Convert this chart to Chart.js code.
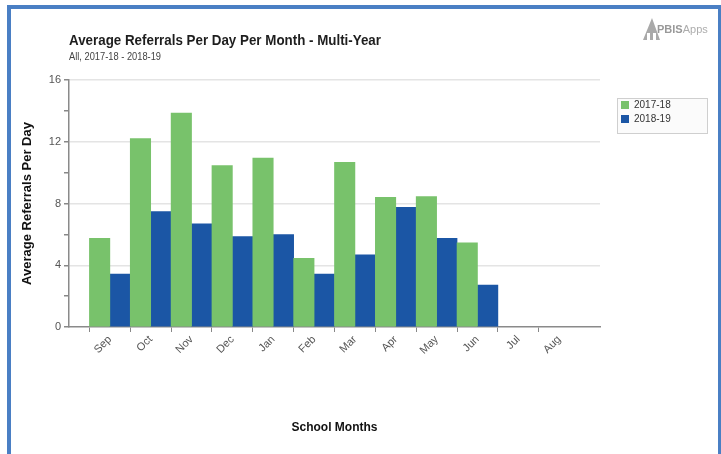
<!DOCTYPE html>
<html>
<head>
<meta charset="utf-8">
<script src="https://cdn.jsdelivr.net/npm/chart.js@4"></script>
<style>
  html, body { margin: 0; padding: 0; background: #fff; }
  #wrap { width: 721px; height: 454px; position: relative; }
</style>
</head>
<body>
<div id="wrap"><canvas id="chart" width="721" height="454"></canvas></div>
<script>
// Months, padded with an empty slot on each side like the original axis
var months = ['', 'Sep', 'Oct', 'Nov', 'Dec', 'Jan', 'Feb', 'Mar', 'Apr', 'May', 'Jun', 'Jul', 'Aug', ''];
var seriesNames = ['2017-18', '2018-19'];
// Jul / Aug have no school days, so nothing is drawn there
var year1718 = [null, 5.75, 12.2, 13.85, 10.45, 10.95, 4.45, 10.67, 8.4, 8.45, 5.45, null, null, null];
var year1819 = [null, 3.43, 7.47, 6.68, 5.85, 5.98, 3.43, 4.67, 7.76, 5.75, 2.72, null, null, null];
var seriesColors = ['#78c26b', '#1b56a5'];

var titleText = 'Average Referrals Per Day Per Month - Multi-Year';
var subtitleText = 'All, 2017-18 - 2018-19';

// Frame, headings, logo and boxed legend
var decorPlugin = {
    id: 'decor',
    beforeDraw: function(chart) {
        var ctx = chart.ctx;
        ctx.save();
        ctx.fillStyle = '#fff';
        ctx.fillRect(0, 0, chart.width, chart.height);
        ctx.restore();
    },
    afterDraw: function(chart) {
        var ctx = chart.ctx;
        ctx.save();

        // blue frame
        ctx.fillStyle = '#4a7fc4';
        ctx.fillRect(7, 5, 714, 4);
        ctx.fillRect(7, 5, 4, 449);
        ctx.fillRect(718, 5, 3, 449);

        // title + subtitle
        ctx.fillStyle = '#1e1e1e';
        ctx.textBaseline = 'alphabetic';
        ctx.textAlign = 'left';
        ctx.font = 'bold 15px "Liberation Sans", Arial, sans-serif';
        ctx.fillText(titleText, 69, 45, 312);
        ctx.fillStyle = '#444';
        ctx.font = '10px "Liberation Sans", Arial, sans-serif';
        ctx.fillText(subtitleText, 69, 60, 92);

        // PBISApps logo
        ctx.fillStyle = '#a9a9a9';
        ctx.beginPath();
        ctx.moveTo(652, 18);
        ctx.lineTo(643, 40);
        ctx.lineTo(647, 40);
        ctx.lineTo(647, 33);
        ctx.lineTo(650, 33);
        ctx.lineTo(650, 40);
        ctx.lineTo(653, 40);
        ctx.lineTo(653, 33);
        ctx.lineTo(656, 33);
        ctx.lineTo(656, 40);
        ctx.lineTo(660, 40);
        ctx.closePath();
        ctx.fill();
        ctx.fillStyle = '#999';
        ctx.font = 'bold 11px "Liberation Sans", Arial, sans-serif';
        ctx.fillText('PBIS', 657, 33);
        var w = ctx.measureText('PBIS').width;
        ctx.fillStyle = '#adadad';
        ctx.font = '11px "Liberation Sans", Arial, sans-serif';
        ctx.fillText('Apps', 657 + w, 33);

        // legend box
        ctx.fillStyle = '#fbfbfb';
        ctx.fillRect(617, 98, 91, 36);
        ctx.strokeStyle = '#cfcfcf';
        ctx.lineWidth = 1;
        ctx.strokeRect(617.5, 98.5, 90, 35);
        ctx.font = '10px "Liberation Sans", Arial, sans-serif';
        ctx.textBaseline = 'middle';
        for (var i = 0; i < seriesNames.length; i++) {
            var y = 105 + i * 14;
            ctx.fillStyle = seriesColors[i];
            ctx.fillRect(621, y - 4, 8, 8);
            ctx.fillStyle = '#333';
            ctx.fillText(seriesNames[i], 634, y);
        }
        ctx.restore();
    }
};

var axisFont = { family: '"Liberation Sans", Arial, sans-serif', size: 11 };

new Chart(document.getElementById('chart'), {
    type: 'bar',
    data: {
        labels: months,
        datasets: [{
            label: seriesNames[0],
            data: year1718,
            backgroundColor: seriesColors[0]
        }, {
            label: seriesNames[1],
            data: year1819,
            backgroundColor: seriesColors[1]
        }]
    },
    options: {
        responsive: false,
        animation: false,
        devicePixelRatio: 1,
        layout: { padding: { top: 80, right: 121, left: 0, bottom: 0 } },
        datasets: { bar: { categoryPercentage: 1, barPercentage: 1 } },
        plugins: {
            legend: { display: false },
            title: { display: false },
            tooltip: { enabled: false }
        },
        scales: {
            x: {
                offset: false,
                afterFit: function(scale) { scale.height = 127; },
                grid: {
                    drawOnChartArea: false,
                    tickLength: 5,
                    tickColor: function(c) {
                        return (c.index === 0 || c.index === months.length - 1) ? 'rgba(0,0,0,0)' : '#888';
                    }
                },
                border: { color: '#8a8a8a', width: 1.5 },
                ticks: {
                    autoSkip: false,
                    minRotation: 45,
                    maxRotation: 45,
                    padding: 1,
                    color: '#555',
                    font: axisFont
                },
                title: {
                    display: true,
                    text: 'School Months',
                    color: '#111',
                    font: { family: '"Liberation Sans", Arial, sans-serif', size: 12, weight: 'bold' },
                    padding: { top: 0, bottom: 19 }
                }
            },
            y: {
                min: 0,
                max: 16,
                afterFit: function(scale) { scale.width = 69; },
                grid: {
                    tickLength: 5,
                    lineWidth: 1.5,
                    color: function(c) {
                        return (c.tick && c.tick.value % 4 === 0 && c.tick.value > 0) ? '#e4e4e4' : 'rgba(0,0,0,0)';
                    },
                    tickColor: '#888'
                },
                border: { color: '#8a8a8a', width: 1.5 },
                ticks: {
                    stepSize: 2,
                    padding: 3,
                    color: '#555',
                    font: axisFont,
                    callback: function(v) { return v % 4 === 0 ? v : ''; }
                },
                title: {
                    display: true,
                    text: 'Average Referrals Per Day',
                    color: '#111',
                    font: { family: '"Liberation Sans", Arial, sans-serif', size: 13, weight: 'bold' },
                    padding: { top: 20, bottom: 0 }
                }
            }
        }
    },
    plugins: [decorPlugin]
});
</script>
</body>
</html>
